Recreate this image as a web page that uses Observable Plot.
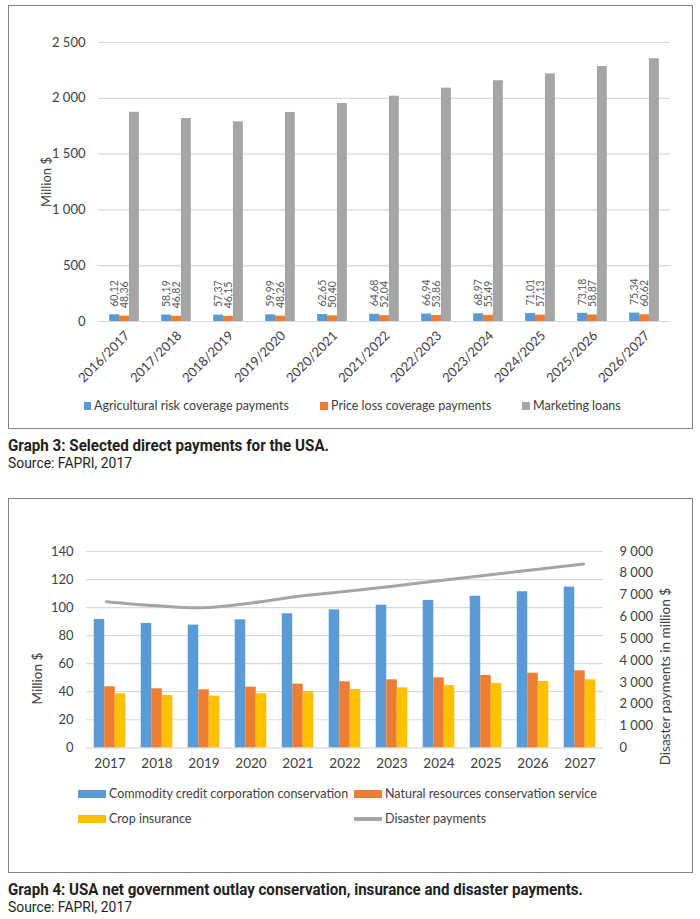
<!DOCTYPE html>
<html>
<head>
<meta charset="utf-8">
<script src="https://cdn.jsdelivr.net/npm/d3@7"></script>
<script src="https://cdn.jsdelivr.net/npm/@observablehq/plot@0.6"></script>
<style>
  html, body { margin: 0; padding: 0; background: #fff; }
  body { width: 700px; height: 919px; position: relative; overflow: hidden; font-family: Lato, "Open Sans", sans-serif; }
  .frame { position: absolute; border: 1.5px solid #7f7f7f; box-sizing: border-box; }
  .plot { position: absolute; left: 0; }
  .leg { position: absolute; font-size: 12.5px; color: #404040; white-space: nowrap; line-height: 14px; transform: translateY(-50%); }
  .sw { position: absolute; }
  .caption, .source { position: absolute; left: 8px; font-family: Roboto, "Liberation Sans", sans-serif; color: #231f20; white-space: nowrap; line-height: 18px; transform-origin: 0 50%; }
  .caption { font-weight: bold; font-size: 16.5px; }
  .source { font-size: 14px; }
</style>
</head>
<body>
<div class="frame" style="left:8px;top:5px;width:685px;height:424px;"></div>
<div class="frame" style="left:8px;top:498px;width:685px;height:375px;"></div>
<div id="c1" class="plot" style="top:0px;"></div>
<div id="c2" class="plot" style="top:460px;"></div>
<div id="c2b" class="plot" style="top:460px;"></div>
<div id="leg1"></div>
<div id="leg2"></div>
<div class="caption" data-w="321" style="top:437px;">Graph 3: Selected direct payments for the USA.</div>
<div class="source" data-w="124" style="top:454px;">Source: FAPRI, 2017</div>
<div class="caption" data-w="575" style="top:881px;">Graph 4: USA net government outlay conservation, insurance and disaster payments.</div>
<div class="source" data-w="124" style="top:898px;">Source: FAPRI, 2017</div>
<script>
// ---------- Graph 3 data ----------
const years1 = ["2016/2017","2017/2018","2018/2019","2019/2020","2020/2021","2021/2022","2022/2023","2023/2024","2024/2025","2025/2026","2026/2027"];
const arcPayments = [60.12, 58.19, 57.37, 59.99, 62.65, 64.68, 66.94, 68.97, 71.01, 73.18, 75.34];
const plcPayments = [48.36, 46.82, 46.15, 48.26, 50.40, 52.04, 53.86, 55.49, 57.13, 58.87, 60.62];
const marketingLoans = [1875, 1819, 1789, 1873, 1953, 2019, 2091, 2157, 2219, 2285, 2354];
const series1 = ["Agricultural risk coverage payments", "Price loss coverage payments", "Marketing loans"];
const colors1 = ["#5b9bd5", "#ed7d31", "#a5a5a5"];
const yTicks1 = [0, 500, 1000, 1500, 2000, 2500];

// ---------- Graph 4 data ----------
const years2 = ["2017","2018","2019","2020","2021","2022","2023","2024","2025","2026","2027"];
const cccConservation = [91.5, 88.7, 87.5, 91.3, 95.6, 98.4, 101.7, 105.1, 108.1, 111.3, 114.6];
const nrcsConservation = [43.5, 42.1, 41.4, 43.2, 45.4, 47.1, 48.5, 49.9, 51.6, 53.2, 54.9];
const cropInsurance = [38.5, 37.3, 36.8, 38.5, 40.2, 41.6, 42.8, 44.4, 45.9, 47.3, 48.5];
const disasterPayments = [6700, 6520, 6420, 6630, 6940, 7170, 7410, 7670, 7920, 8175, 8430];
const series2 = ["Commodity credit corporation conservation", "Natural resources conservation service", "Crop insurance"];
const colors2 = ["#5b9bd5", "#ed7d31", "#ffc000"];
const lineName2 = "Disaster payments";
const lineColor2 = "#a5a5a5";
const yTicks2 = [0, 20, 40, 60, 80, 100, 120, 140];
const yTicks2Right = [0, 1000, 2000, 3000, 4000, 5000, 6000, 7000, 8000, 9000];

// ---------- formats ----------
const loc = d3.formatLocale({decimal: ",", thousands: "\u00a0", grouping: [3], currency: ["", ""]});
const fmtThousands = loc.format(",");
const fmtDec = loc.format(".2f");

// ---------- build tables ----------
const data1 = years1.flatMap((y, i) => [
  {year: y, series: series1[0], value: arcPayments[i]},
  {year: y, series: series1[1], value: plcPayments[i]},
  {year: y, series: series1[2], value: marketingLoans[i]}
]);
const labels1 = data1.filter(d => d.series !== series1[2]);

const data2 = years2.flatMap((y, i) => [
  {year: y, series: series2[0], value: cccConservation[i]},
  {year: y, series: series2[1], value: nrcsConservation[i]},
  {year: y, series: series2[2], value: cropInsurance[i]}
]);
const line2 = years2.map((y, i) => ({year: y, value: disasterPayments[i]}));

const font = "Lato, 'Open Sans', sans-serif";
const tickColor = "#404040";

// ---------- Graph 3 ----------
const chart1 = Plot.plot({
  width: 700, height: 390,
  marginLeft: 94, marginRight: 27, marginTop: 42, marginBottom: 69,
  style: {fontFamily: font, fontSize: "12px", color: tickColor, background: "transparent", overflow: "visible"},
  fx: {domain: years1, padding: 0, label: null},
  x: {domain: series1, paddingInner: 0, paddingOuter: 1.13, round: false, axis: null},
  y: {domain: [0, 2500], round: false},
  color: {domain: series1, range: colors1},
  marks: [
    Plot.gridY(yTicks1, {stroke: "#d9d9d9", strokeOpacity: 1, strokeWidth: 1.2}),
    Plot.axisY(yTicks1, {tickFormat: fmtThousands, tickSize: 0, tickPadding: 13, fontSize: 13, label: "Million $", labelAnchor: "center", labelOffset: 57, labelArrow: "none"}),
    Plot.barY(data1, {fx: "year", x: "series", y: "value", fill: "series"}),
    Plot.text(labels1, {fx: "year", x: "series", y: "value", text: d => fmtDec(d.value), rotate: -90, textAnchor: "start", dy: -8, fontSize: 10.5, fill: "#595959"}),
    Plot.axisFx({anchor: "bottom", tickRotate: -45, tickSize: 0, tickPadding: 12, dx: 3, fontSize: 13, label: null})
  ]
});
document.getElementById("c1").appendChild(chart1);

// ---------- Graph 4 (bars) ----------
const chart2 = Plot.plot({
  width: 700, height: 320,
  marginLeft: 82, marginRight: 93, marginTop: 91, marginBottom: 32.7,
  style: {fontFamily: font, fontSize: "12px", color: tickColor, background: "transparent", overflow: "visible"},
  fx: {domain: years2, padding: 0, label: null},
  x: {domain: series2, paddingInner: 0, paddingOuter: 0.735, round: false, axis: null},
  y: {domain: [0, 140], round: false},
  color: {domain: series2, range: colors2},
  marks: [
    Plot.gridY(yTicks2, {stroke: "#d9d9d9", strokeOpacity: 1, strokeWidth: 1.2}),
    Plot.axisY(yTicks2, {tickSize: 0, tickPadding: 13, fontSize: 13, label: null}),
    Plot.barY(data2, {fx: "year", x: "series", y: "value", fill: "series"}),
    Plot.axisFx({anchor: "bottom", tickSize: 0, tickPadding: 11, fontSize: 13.5, label: null})
  ]
});
document.getElementById("c2").appendChild(chart2);

// ---------- Graph 4 (line, secondary axis) ----------
const chart2b = Plot.plot({
  width: 700, height: 320,
  marginLeft: 82, marginRight: 93, marginTop: 91, marginBottom: 32.7,
  style: {fontFamily: font, fontSize: "12px", color: tickColor, background: "transparent", overflow: "visible"},
  x: {type: "band", domain: years2, padding: 0, round: false, axis: null},
  y: {domain: [0, 9000], round: false, axis: null},
  marks: [
    Plot.axisY(yTicks2Right, {anchor: "right", tickFormat: fmtThousands, tickSize: 0, tickPadding: 12, fontSize: 13, label: null}),
    Plot.lineY(line2, {x: "year", y: "value", stroke: lineColor2, strokeWidth: 3, curve: "catmull-rom"}),
    Plot.text(["Million $"], {frameAnchor: "left", text: d => d, rotate: -90, textAnchor: "middle", dx: -45, dy: 29, fontSize: 13.5, fill: tickColor}),
    Plot.text(["Disaster payments in million $"], {frameAnchor: "right", text: d => d, rotate: -90, textAnchor: "middle", dx: 58, dy: 27, fontSize: 13.5, fill: tickColor})
  ]
});
document.getElementById("c2b").appendChild(chart2b);

// ---------- legends ----------
function legendItem(container, swLeft, textLeft, top, color, swW, swH, label) {
  const sw = document.createElement("div");
  sw.className = "sw";
  sw.style.cssText = `left:${swLeft}px;top:${top - swH / 2}px;width:${swW}px;height:${swH}px;background:${color};`;
  container.appendChild(sw);
  const t = document.createElement("div");
  t.className = "leg";
  t.style.cssText = `left:${textLeft}px;top:${top}px;`;
  t.textContent = label;
  container.appendChild(t);
}
const leg1 = document.getElementById("leg1");
const leg1Pos = [[83.5, 94], [320, 331], [522, 533]];
series1.forEach((s, i) => legendItem(leg1, leg1Pos[i][0], leg1Pos[i][1], 406, colors1[i], 7.5, 7.5, s));

const leg2 = document.getElementById("leg2");
legendItem(leg2, 78, 109, 794, colors2[0], 28, 8, series2[0]);
legendItem(leg2, 354, 385, 794, colors2[1], 28, 8, series2[1]);
legendItem(leg2, 78, 109, 819, colors2[2], 28, 8, series2[2]);
legendItem(leg2, 354, 385, 819, lineColor2, 28, 3.5, lineName2);

// fit the condensed caption lines to the reference widths
document.querySelectorAll(".caption, .source").forEach(el => {
  const w = el.getBoundingClientRect().width;
  const target = +el.dataset.w;
  if (w > 0) el.style.transform = `scaleX(${target / w})`;
});
</script>
</body>
</html>
